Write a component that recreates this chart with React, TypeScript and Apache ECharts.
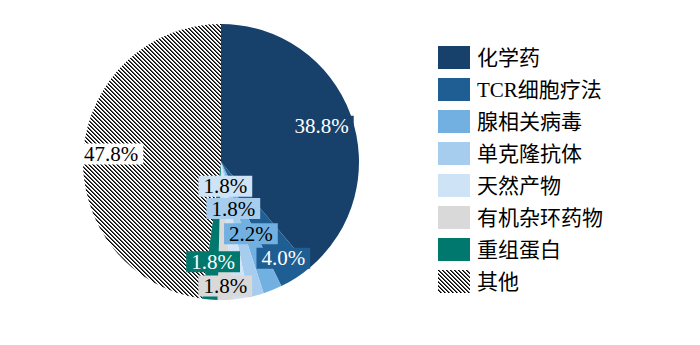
import React, { useEffect, useRef } from "react";
import * as echarts from "echarts";

const categories = ["化学药", "TCR细胞疗法", "腺相关病毒", "单克隆抗体", "天然产物", "有机杂环药物", "重组蛋白", "其他"];
const values = [38.8, 4.0, 2.2, 1.8, 1.8, 1.8, 1.8, 47.8];
const colors = ["#17406a", "#1e5e93", "#72b0e1", "#a6cdee", "#cfe3f6", "#d9d9d9", "#00786e", "hatch"];
const labelTextColors = ["#fff", "#fff", "#000", "#000", "#000", "#000", "#fff", "#000"];
const labelBgColors = ["#17406a", "#1e5e93", "#72b0e1", "#a6cdee", "#cfe3f6", "#d9d9d9", "#00786e", "#ffffff"];
// label nudges (px) from the default inside position
const labelDx = [33, 23, 3, -6, -6, 2, -2, -38];
const labelDy = [-11, 36, 5, -23, -47, 52, 28, -3];

function makeHatch() {
  const size = 4;
  const c = document.createElement("canvas");
  c.width = size;
  c.height = size;
  const ctx = c.getContext("2d")!;
  ctx.fillStyle = "#ffffff";
  ctx.fillRect(0, 0, size, size);
  for (let y = 0; y < size; y++) {
    for (let x = 0; x < size; x++) {
      const m = (((x - y) % size) + size) % size;
      if (m === 0) {
        ctx.fillStyle = "#000000";
        ctx.fillRect(x, y, 1, 1);
      } else if (m === 1) {
        ctx.fillStyle = "#555555";
        ctx.fillRect(x, y, 1, 1);
      }
    }
  }
  return { image: c, repeat: "repeat", imageWidth: size, imageHeight: size } as any;
}

export default function App() {
  const ref = useRef<HTMLDivElement>(null);
  useEffect(() => {
    document.body.style.margin = "0";
    const chart = echarts.init(ref.current!, null, { renderer: "svg" });
    const hatch = makeHatch();
    const font = '"Liberation Serif", "Noto Sans CJK SC", serif';
    const data = categories.map((name, i) => ({
      name,
      value: values[i],
      itemStyle: { color: colors[i] === "hatch" ? hatch : colors[i] },
      label: {
        color: labelTextColors[i],
        backgroundColor: labelBgColors[i],
      },
    }));
    chart.setOption({
      animation: false,
      backgroundColor: "#ffffff",
      legend: {
        orient: "vertical",
        left: 433,
        top: 41,
        itemWidth: 32,
        itemHeight: 23,
        itemGap: 9,
        icon: "rect",
        selectedMode: false,
        textStyle: { fontSize: 21, fontFamily: font, color: "#000", padding: [0, 0, 0, 2] },
        data: categories,
      },
      series: [
        {
          type: "pie",
          center: [221, 162],
          radius: 138,
          startAngle: 90,
          clockwise: true,
          avoidLabelOverlap: false,
          label: {
            show: true,
            position: "inside",
            fontSize: 21,
            fontFamily: font,
            lineHeight: 21,
            padding: [0, 5],
            formatter: (p: any) => Number(p.value).toFixed(1) + "%",
          },
          labelLine: { show: false },
          labelLayout: (p: any) => ({ dx: labelDx[p.dataIndex], dy: labelDy[p.dataIndex] }),
          emphasis: { disabled: true },
          data,
        },
      ],
    });
    return () => chart.dispose();
  }, []);
  return <div ref={ref} style={{ width: 700, height: 345 }} />;
}
